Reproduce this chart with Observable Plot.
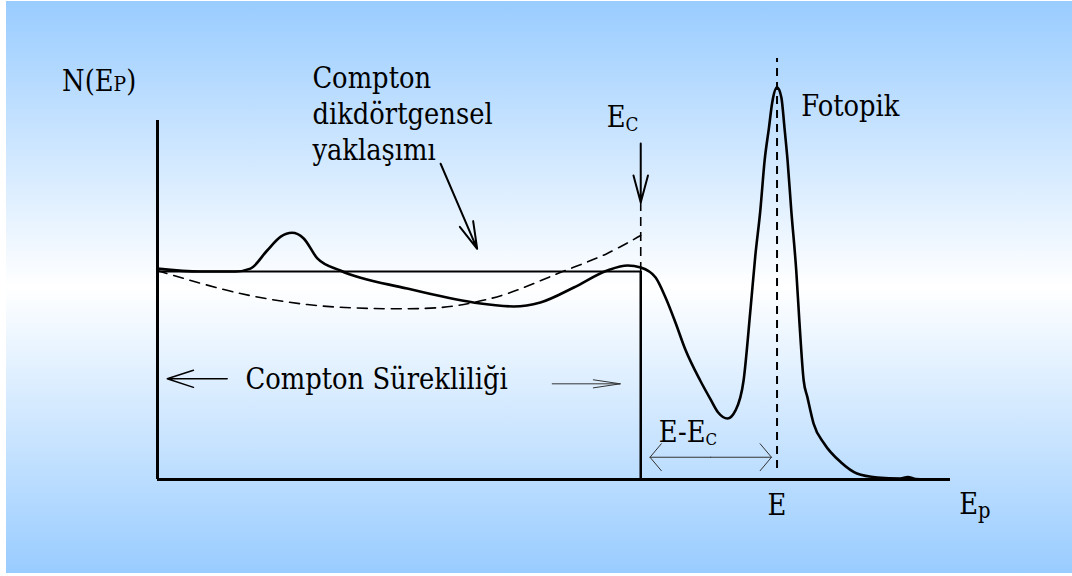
<!DOCTYPE html>
<html>
<head>
<meta charset="utf-8">
<script src="https://cdn.jsdelivr.net/npm/d3@7"></script>
<script src="https://cdn.jsdelivr.net/npm/@observablehq/plot@0.6"></script>
<style>
  html, body { margin: 0; padding: 0; background: #fff; width: 1072px; height: 576px; overflow: hidden; }
  #bg { position: absolute; left: 6px; top: 1px; right: 0; bottom: 3px;
        background: linear-gradient(to bottom, #99ccff 0%, #ffffff 50%, #99ccff 100%); }
  #chart { position: absolute; left: 0; top: 0; }
</style>
</head>
<body>
<div id="bg"></div>
<div id="chart"></div>
<script>
// Pulse-height spectrum of a monoenergetic gamma source.
// Energy is in units where the full-energy peak E = 100; counts are relative
// to the height of the flat Compton continuum (= 1).
const energy = [0, 6.9, 12.6, 15.0, 17.7, 19.9, 21.7, 23.6, 25.8, 29.5, 40.3, 51.0, 57.5, 61.8,
  67.2, 72.6, 75.9, 78.0, 80.4, 82.0, 83.6, 85.2, 87.6, 89.2, 90.5, 92.0, 93.3, 94.6, 95.7, 96.5,
  97.3, 98.0, 98.7, 99.2, 100.0, 100.7, 101.2, 101.7, 102.3, 103.1, 103.6, 104.3, 104.9, 105.9,
  107.6, 110.3, 112.9, 116.2, 119.9, 121.1, 122.4, 124.0];
const counts = [1.014, 1.000, 1.000, 1.014, 1.101, 1.168, 1.186, 1.159, 1.063, 1.005, 0.918, 0.851,
  0.832, 0.851, 0.923, 1.005, 1.029, 1.019, 0.971, 0.875, 0.755, 0.625, 0.476, 0.389, 0.322, 0.293,
  0.332, 0.476, 0.813, 1.077, 1.293, 1.534, 1.692, 1.808, 1.885, 1.837, 1.692, 1.534, 1.293, 1.005,
  0.764, 0.476, 0.396, 0.269, 0.173, 0.083, 0.029, 0.010, 0.005, 0.012, 0.002, 0.000];

// Alternative (curved) shape of the Compton continuum, ending at the Compton edge
const altEnergy = [0, 2.6, 13.4, 24.2, 34.9, 45.7, 51.0, 56.5, 64.6, 72.6, 78.0];
const altCounts = [1.005, 0.981, 0.894, 0.841, 0.822, 0.827, 0.851, 0.894, 0.990, 1.087, 1.173];

// Key energies and levels
const E = 100;          // full-energy (photo) peak
const EC = 78;          // Compton edge
const plateau = 1;      // flat Compton continuum level
const edgeTop = 1.332;  // top of the dashed edge marker
const xMax = 128;       // end of the energy axis
const yAxisTop = 1.726; // end of the counts axis
const peakLineTop = 2.024;
const peakLineBottom = 0.053;

// Annotation texts ("_" marks a subscript)
const labelText = ["N(E_P)", "Compton\ndikdörtgensel\nyaklaşımı", "E_C", "Fotopik",
  "Compton Sürekliliği", "E-E_C", "E_p"];
const labelX = [-15.4, 25.0, 72.5, 103.9, 14.2, 80.9, 129.4];
const labelY = [1.870, 1.534, 1.694, 1.750, 0.4375, 0.179, -0.168];
// Centred label under the peak
const peakLabel = [{t: "E", x: E, y: -0.170}];

// Arrows (start → tip)
const approxArrow = [{x1: 45.7, y1: 1.518, x2: 51.6, y2: 1.109}];
const edgeArrow = [{x1: EC, y1: 1.736, x2: EC, y2: edgeTop}];
const leftArrow = [{x1: 14.93, y1: 0.484, x2: 1.57, y2: 0.484}];
const rightArrow = [{x1: 61.5, y1: 0.46, x2: 74.7, y2: 0.46}];
const gapMid = 89.3, gapY = 0.107;
const gapArrows = [{x1: gapMid, y1: gapY, x2: 79.5, y2: gapY}, {x1: gapMid, y1: gapY, x2: 99.1, y2: gapY}];

const spectrum = energy.map((e, i) => ({e, n: counts[i]}));
const alt = altEnergy.map((e, i) => ({e, n: altCounts[i]}));
const labels = labelText.map((t, i) => ({t, x: labelX[i], y: labelY[i]}));

const face = "DejaVu Serif";
const textOpts = {fontSize: 29, fill: "#000", lineAnchor: "bottom", lineHeight: 1.241};

const plot = Plot.plot({
  width: 1072,
  height: 576,
  marginLeft: 157,
  marginRight: 122,
  marginTop: 11,
  marginBottom: 97,
  x: {domain: [0, xMax], axis: null},
  y: {domain: [0, 2.25], axis: null},
  style: {background: "transparent", overflow: "visible"},
  marks: [
    // axes
    Plot.ruleX([0], {y1: 0, y2: yAxisTop, stroke: "#000", strokeWidth: 3}),
    Plot.ruleY([0], {x1: 0, x2: xMax, stroke: "#000", strokeWidth: 3}),
    // rectangular Compton approximation
    Plot.ruleY([plateau], {x1: 0, x2: EC, stroke: "#000", strokeWidth: 2}),
    Plot.ruleX([EC], {y1: 0, y2: plateau, stroke: "#000", strokeWidth: 2.5}),
    Plot.ruleX([EC], {y1: plateau, y2: edgeTop, stroke: "#000", strokeWidth: 1.6, strokeDasharray: "9,6"}),
    // full-energy line
    Plot.ruleX([E], {y1: peakLineBottom, y2: peakLineTop, stroke: "#000", strokeWidth: 2, strokeDasharray: "8,6"}),
    // curved continuum shape
    Plot.line(alt, {x: "e", y: "n", curve: "catmull-rom", stroke: "#000", strokeWidth: 1.6, strokeDasharray: "10,7"}),
    // measured spectrum
    Plot.line(spectrum, {x: "e", y: "n", curve: "monotone-x", stroke: "#000", strokeWidth: 2.6}),
    // arrows
    Plot.arrow(approxArrow, {x1: "x1", y1: "y1", x2: "x2", y2: "y2", stroke: "#000", strokeWidth: 2, headLength: 21, headAngle: 30}),
    Plot.arrow(edgeArrow, {x1: "x1", y1: "y1", x2: "x2", y2: "y2", stroke: "#000", strokeWidth: 2, headLength: 21, headAngle: 30, insetStart: 25}),
    Plot.arrow(leftArrow, {x1: "x1", y1: "y1", x2: "x2", y2: "y2", stroke: "#000", strokeWidth: 1.5, headLength: 27.6, headAngle: 36, insetStart: 22.8}),
    Plot.arrow(rightArrow, {x1: "x1", y1: "y1", x2: "x2", y2: "y2", stroke: "#333", strokeWidth: 1, headLength: 41, headAngle: 17, insetStart: 13.7}),
    Plot.arrow(gapArrows, {x1: "x1", y1: "y1", x2: "x2", y2: "y2", stroke: "#333", strokeWidth: 1, headLength: 26.4, headAngle: 100}),
    // labels
    Plot.text(labels, {x: "x", y: "y", text: "t", textAnchor: "start", ...textOpts}),
    Plot.text(peakLabel, {x: "x", y: "y", text: "t", textAnchor: "middle", ...textOpts})
  ]
});

// Serif face, slightly condensed, on every label; "_X" rendered as a subscript
const condense = 0.89;
const subStyle = {
  "N(E_P)": {size: 21, shift: 0},
  "E_C": {size: 19, shift: 4},
  "E-E_C": {size: 17, shift: 3},
  "E_p": {size: 22, shift: 4}
};
const ns = "http://www.w3.org/2000/svg";
plot.querySelectorAll("text").forEach((t) => {
  t.style.fontFamily = `"${face}"`;
  const tr = t.getAttribute("transform") || "";
  t.setAttribute("transform", `${tr} scale(${condense},1)`);
  const s = t.textContent;
  const st = subStyle[s];
  if (!st) return;
  const m = s.match(/^(.*?)_(\S)(.*)$/);
  if (!m) return;
  t.textContent = "";
  const base = document.createElementNS(ns, "tspan");
  base.textContent = m[1];
  t.appendChild(base);
  const sub = document.createElementNS(ns, "tspan");
  sub.textContent = m[2];
  sub.setAttribute("font-size", st.size);
  if (st.shift) sub.setAttribute("dy", st.shift);
  t.appendChild(sub);
  if (m[3]) {
    const rest = document.createElementNS(ns, "tspan");
    rest.textContent = m[3];
    if (st.shift) rest.setAttribute("dy", -st.shift);
    t.appendChild(rest);
  }
});

document.getElementById("chart").appendChild(plot);
</script>
</body>
</html>
